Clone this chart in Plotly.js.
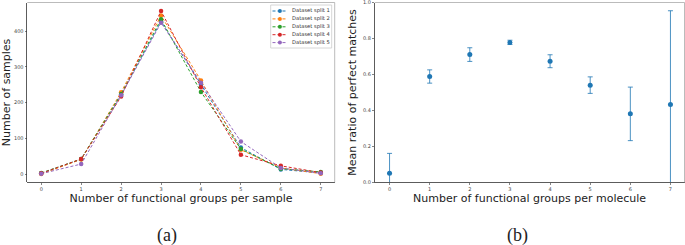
<!DOCTYPE html>
<html><head><meta charset="utf-8">
<script src="https://cdn.plot.ly/plotly-3.0.1.min.js"></script>
<style>html,body{margin:0;padding:0;background:#fff}</style>
</head><body>
<div id="chart" style="width:685px;height:245px"></div>
<script>
// ---- data ----
const groups = [0, 1, 2, 3, 4, 5, 6, 7];
const splitNames = ['Dataset split 1', 'Dataset split 2', 'Dataset split 3', 'Dataset split 4', 'Dataset split 5'];
const split1 = [2, 42, 223, 428, 251, 74, 13, 3];
const split2 = [0, 41, 229, 444, 262, 68, 17, 1];
const split3 = [3, 42, 224, 434, 230, 70, 15, 6];
const split4 = [2, 42, 217, 457, 243, 54, 23, 4];
const split5 = [1, 28, 221, 424, 256, 91, 17, 2];
const meanRatio = [0.05, 0.589, 0.711, 0.779, 0.674, 0.541, 0.381, 0.433];
const ratioErr = [0.111, 0.037, 0.038, 0.012, 0.036, 0.046, 0.149, 0.522];
const leftTicks = [0, 100, 200, 300, 400];
const rightTicks = [0, 0.2, 0.4, 0.6, 0.8, 1.0];
const captions = ['(a)', '(b)'];
const xTitleA = 'Number of functional groups per sample';
const yTitleA = 'Number of samples';
const xTitleB = 'Number of functional groups per molecule';
const yTitleB = 'Mean ratio of perfect matches';

// ---- styles ----
const W = 685, H = 245;
const colors = ['#1f77b4', '#ff7f0e', '#2ca02c', '#d62728', '#9467bd'];
const px = v => v / W;
const py = v => 1 - v / H;
const splits = [split1, split2, split3, split4, split5];

const traces = splits.map((s, i) => ({
  type: 'scatter', mode: 'lines+markers', x: groups, y: s, name: splitNames[i],
  xaxis: 'x', yaxis: 'y', showlegend: false,
  line: {color: colors[i], width: 1, dash: '3px,2px'},
  marker: {color: colors[i], size: 4.5}
}));
traces.push({
  type: 'scatter', mode: 'markers', x: groups, y: meanRatio, xaxis: 'x2', yaxis: 'y2', showlegend: false,
  marker: {color: '#1f77b4', size: 5},
  error_y: {type: 'data', array: ratioErr, visible: true, color: 'rgba(31,119,180,0.8)', thickness: 1, width: 2.5}
});

const tickFont = {family: 'DejaVu Sans', size: 5, color: '#444'};
const titleFont = {family: 'DejaVu Sans', size: 11, color: '#222'};
const axBase = {
  showgrid: false, zeroline: false, showline: true, linecolor: '#333', linewidth: 0.8,
  ticks: 'outside', ticklen: 2, tickwidth: 0.6, tickcolor: '#333', tickfont: tickFont,
  automargin: false, fixedrange: true
};

const shapes = [];
const annotations = [];
// light top/right frame lines
[['x', 'y'], ['x2', 'y2']].forEach(([xa, ya]) => {
  shapes.push({type: 'line', xref: xa + ' domain', yref: ya + ' domain', x0: 0, x1: 1, y0: 1, y1: 1, line: {color: '#aaa', width: 0.8}});
  shapes.push({type: 'line', xref: xa + ' domain', yref: ya + ' domain', x0: 1, x1: 1, y0: 0, y1: 1, line: {color: '#aaa', width: 0.8}});
});
// custom compact legend
shapes.push({type: 'rect', xref: 'paper', yref: 'paper', x0: px(270.7), x1: px(331.7), y0: py(5), y1: py(48),
  line: {color: '#ccc', width: 0.8}, fillcolor: 'rgba(255,255,255,0.85)'});
splitNames.forEach((n, i) => {
  const yy = 11 + i * 7.9;
  shapes.push({type: 'line', xref: 'paper', yref: 'paper', x0: px(272.5), x1: px(287), y0: py(yy), y1: py(yy),
    line: {color: colors[i], width: 1, dash: '3px,2px'}});
  shapes.push({type: 'circle', xref: 'paper', yref: 'paper', x0: px(277.9), x1: px(281.9), y0: py(yy - 2), y1: py(yy + 2),
    line: {width: 0}, fillcolor: colors[i]});
  annotations.push({xref: 'paper', yref: 'paper', x: px(290), y: py(yy), xanchor: 'left', yanchor: 'middle',
    text: n, showarrow: false, font: {family: 'DejaVu Sans', size: 5.2, color: '#333'}});
});
captions.forEach((c, i) => {
  annotations.push({xref: 'paper', yref: 'paper', x: px([167, 517][i]), y: py(235), xanchor: 'center', yanchor: 'middle',
    text: c, showarrow: false, font: {family: 'Liberation Serif', size: 18, color: '#222'}});
});

const layout = {
  width: W, height: H, margin: {l: 0, r: 0, t: 0, b: 0},
  paper_bgcolor: '#fff', plot_bgcolor: '#fff', showlegend: false,
  xaxis: Object.assign({}, axBase, {domain: [px(27.3), px(334.7)], range: [-0.35, 7.35], tickvals: groups, anchor: 'y',
    title: {text: xTitleA, font: titleFont, standoff: 3}}),
  yaxis: Object.assign({}, axBase, {domain: [py(182.3), py(2.5)], range: [-23.2, 480.7], tickvals: leftTicks, anchor: 'x',
    title: {text: yTitleA, font: titleFont, standoff: 3}}),
  xaxis2: Object.assign({}, axBase, {domain: [px(374.7), px(684.5)], range: [-0.37, 7.35], tickvals: groups, anchor: 'y2',
    title: {text: xTitleB, font: titleFont, standoff: 3}}),
  yaxis2: Object.assign({}, axBase, {domain: [py(182.3), py(2.5)], range: [0, 1.001], tickvals: rightTicks, tickformat: '.1f', anchor: 'x2',
    ticklabeloverflow: 'allow', title: {text: yTitleB, font: titleFont, standoff: 3}}),
  shapes: shapes, annotations: annotations
};

Plotly.newPlot('chart', traces, layout, {displayModeBar: false, staticPlot: true});
</script>
</body></html>
